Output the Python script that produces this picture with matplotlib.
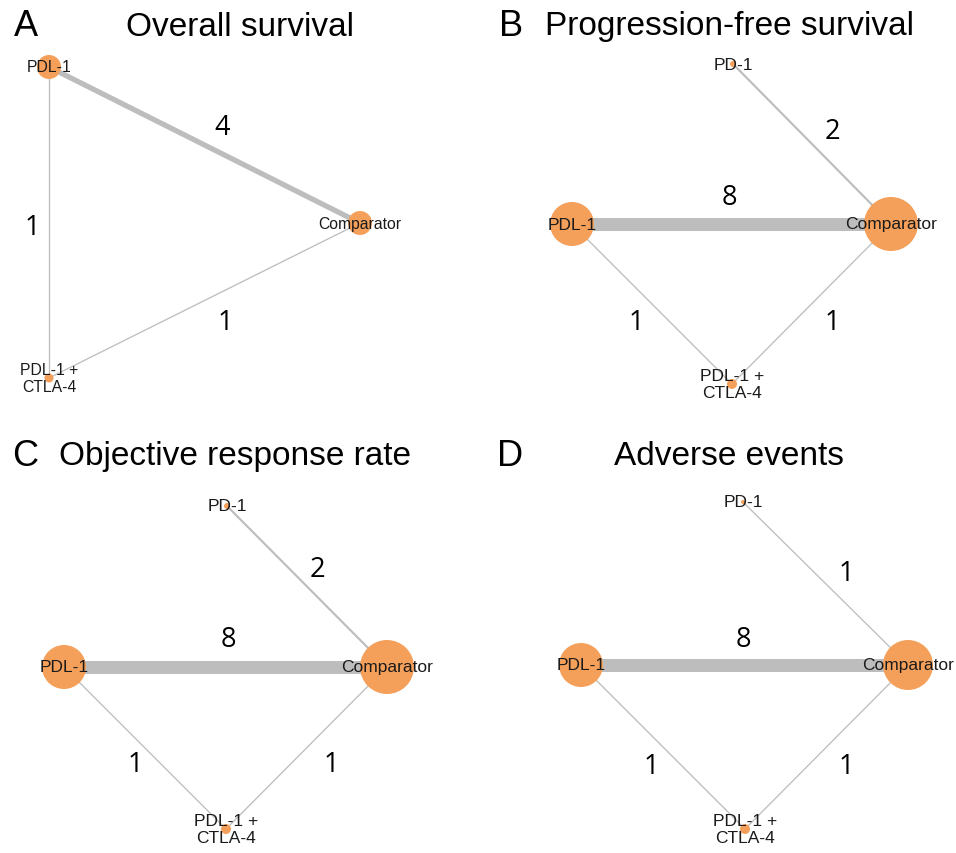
import matplotlib
matplotlib.use("Agg")
import matplotlib.pyplot as plt
from matplotlib.patches import Circle

# ---- data -------------------------------------------------------------
panel_letters = ["A", "B", "C", "D"]
panel_titles = ["Overall survival", "Progression-free survival",
                "Objective response rate", "Adverse events"]

COMBO = "PDL-1 +\nCTLA-4"

# direct comparisons: (treatment, treatment, number of studies)
os_edges = [("PDL-1", "Comparator", 4),
            ("PDL-1", COMBO, 1),
            (COMBO, "Comparator", 1)]
pfs_edges = [("PD-1", "Comparator", 2),
             ("PDL-1", "Comparator", 8),
             ("PDL-1", COMBO, 1),
             (COMBO, "Comparator", 1)]
orr_edges = [("PD-1", "Comparator", 2),
             ("PDL-1", "Comparator", 8),
             ("PDL-1", COMBO, 1),
             (COMBO, "Comparator", 1)]
ae_edges = [("PD-1", "Comparator", 1),
            ("PDL-1", "Comparator", 8),
            ("PDL-1", COMBO, 1),
            (COMBO, "Comparator", 1)]

# relative node weight (sample size) for each treatment
os_nodes = {"PDL-1": 12, "Comparator": 12, COMBO: 4.5}
pfs_nodes = {"PD-1": 3, "PDL-1": 22, "Comparator": 27, COMBO: 5}
orr_nodes = {"PD-1": 3, "PDL-1": 22, "Comparator": 27, COMBO: 5}
ae_nodes = {"PD-1": 2, "PDL-1": 22, "Comparator": 25, COMBO: 5}

panel_edges = [os_edges, pfs_edges, orr_edges, ae_edges]
panel_nodes = [os_nodes, pfs_nodes, orr_nodes, ae_nodes]

# ---- layout (pixel units inside each panel) ----------------------------
panel_origin = [(0, 0), (478, 0), (0, 427), (478, 427)]
node_layout = [
    {"PDL-1": (49, 68), "Comparator": (360, 224), COMBO: (49, 379)},
    {"PD-1": (255, 65), "PDL-1": (94, 225), "Comparator": (413, 225), COMBO: (254, 385)},
    {"PD-1": (227, 80), "PDL-1": (64, 241), "Comparator": (387, 241), COMBO: (226, 403)},
    {"PD-1": (265, 76), "PDL-1": (103, 239), "Comparator": (430, 239), COMBO: (267, 403)},
]
edge_label_layout = [
    [(222, 128), (32, 228), (225, 323)],
    [(354, 132), (251, 198), (158, 323), (354, 323)],
    [(317, 143), (228, 213), (135, 338), (331, 338)],
    [(368, 147), (265, 213), (173, 340), (368, 340)],
]
letter_layout = [(26, 27), (33, 27), (25, 30), (32, 30)]
title_layout = [(240, 27), (252, 27), (235, 30), (251, 30)]
label_size = [11.3, 12.5, 12.5, 12.5]

NODE_COLOR = "#F5A05A"
EDGE_COLOR = "#BDBDBD"
SANS = ["Liberation Sans", "DejaVu Sans"]

W, H = 956, 854
fig = plt.figure(figsize=(W / 100, H / 100), dpi=100)
ax = fig.add_axes([0, 0, 1, 1])
ax.set_xlim(0, W)
ax.set_ylim(H, 0)
ax.axis("off")

PX = 72 / 100  # points per pixel


def edge_width_px(n):
    return 13 * (n / 8) ** 1.3


for k in range(4):
    ox, oy = panel_origin[k]
    pos = {t: (x + ox, y + oy) for t, (x, y) in node_layout[k].items()}

    for (a, b, n), (lx, ly) in zip(panel_edges[k], edge_label_layout[k]):
        (x1, y1), (x2, y2) = pos[a], pos[b]
        ax.plot([x1, x2], [y1, y2], color=EDGE_COLOR,
                lw=max(edge_width_px(n), 1.3) * PX, solid_capstyle="butt", zorder=1)
        ax.text(lx + ox, ly + oy, str(n), fontsize=19.5, family=["Open Sans", "DejaVu Sans"],
                ha="center", va="center", color="black", zorder=5)

    for t, r in panel_nodes[k].items():
        x, y = pos[t]
        ax.add_patch(Circle((x, y), r, facecolor=NODE_COLOR, edgecolor="none", zorder=2))
        ax.text(x, y, t, fontsize=label_size[k], family=SANS, ha="center", va="center",
                color="#1a1a1a", linespacing=1.15, zorder=4)

    lx, ly = letter_layout[k]
    ax.text(lx + ox, ly + oy, panel_letters[k], fontsize=26, family=SANS,
            ha="center", va="center", color="black")
    tx, ty = title_layout[k]
    ax.text(tx + ox, ty + oy, panel_titles[k], fontsize=24, family=SANS,
            ha="center", va="center", color="black")

fig.savefig("out.png", dpi=100, facecolor="white")
